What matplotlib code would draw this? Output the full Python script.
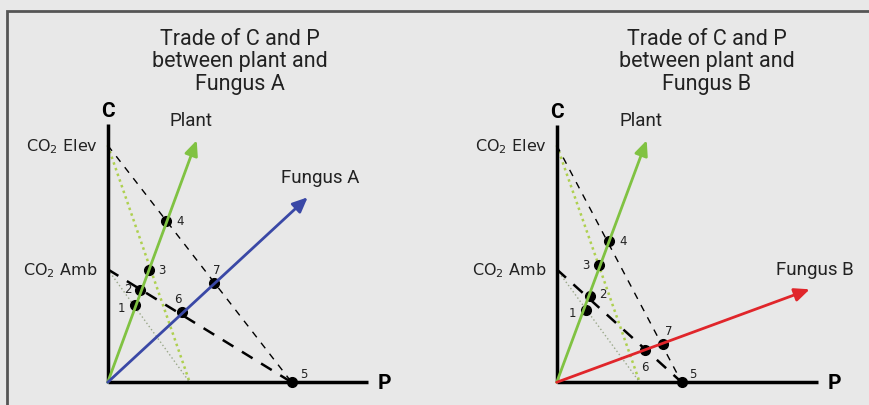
import matplotlib
matplotlib.use("Agg")
import matplotlib.pyplot as plt
from matplotlib.patches import Rectangle

# values for the two panels (arbitrary C / P units, origin at 0,0)
panels = ["A", "B"]
co2_elev = [23.7, 23.7]
co2_amb = [11.3, 11.3]
c_axis_top = [25.8, 25.7]
p_axis_end = [26.0, 26.1]
plant_tip = [(8.9, 24.2), (9.0, 24.2)]
fungus_tip = [(20.0, 18.5), (25.3, 9.3)]
dashed_p_cut = [18.4, 12.5]     # where the dashed budget lines meet P (point 5)
dotted_p_cut = [8.2, 8.3]       # where the dotted lines meet P
point_ids = ["1", "2", "3", "4", "5", "6", "7"]
points_p = [[2.7, 3.2, 4.1, 5.8, 18.4, 7.4, 10.6],
            [2.9, 3.3, 4.2, 5.2, 12.5, 8.8, 10.6]]
points_c = [[7.7, 9.2, 11.2, 16.1, 0.0, 7.0, 9.9],
            [7.2, 8.6, 11.7, 14.1, 0.0, 3.2, 3.8]]
fungus_colors = ["#3a48a6", "#e0262b"]
fungus_label_pos = [(21.2, 20.5), (25.8, 11.3)]

# label offsets (in units) for the point numbers
label_off = [
    [(-1.3, -0.2), (-1.2, 0.2), (1.3, 0.1), (1.4, 0.1), (1.2, 0.9), (-0.4, 1.4), (0.3, 1.4)],
    [(-1.3, -0.2), (1.3, 0.3), (-1.3, 0.1), (1.4, 0.1), (1.1, 0.9), (0.0, -1.6), (0.6, 1.4)],
]

bg = "#e8e8e8"
fig = plt.figure(figsize=(8.7, 4.06), dpi=100, facecolor=bg)

# outer frame
fig.patches.append(Rectangle((7 / 870, -0.05), 1.1, (406 - 12) / 406 + 0.05,
                             transform=fig.transFigure, fill=False,
                             edgecolor="#555555", lw=2))

origins = [(107.7, 383.3), (556.7, 383.3)]
cond = ["Roboto", "DejaVu Sans"]

for i, name in enumerate(panels):
    x0 = i * 435
    ox, oy = origins[i]
    ax = fig.add_axes([x0 / 870, 0, 435 / 870, 1])
    ax.set_xlim((x0 - ox) / 10, (x0 + 435 - ox) / 10)
    ax.set_ylim(-(406 - oy) / 10, oy / 10)
    ax.axis("off")

    e, a = co2_elev[i], co2_amb[i]
    # dotted lines
    ax.plot([0, dotted_p_cut[i]], [e, 0], color="#aed04f", lw=1.8, ls=(0, (1, 1.4)))
    ax.plot([0, dotted_p_cut[i]], [a, 0], color="#9aa88a", lw=1.0, ls=(0, (1, 1.8)))
    # dashed budget lines
    ax.plot([0, dashed_p_cut[i]], [e, 0], color="black", lw=1.0, ls=(0, (5, 5)))
    ax.plot([0, dashed_p_cut[i]], [a, 0], color="black", lw=1.8, ls=(0, (5, 4)))

    # plant and fungus arrows
    ax.annotate("", xy=plant_tip[i], xytext=(0, 0),
                arrowprops=dict(arrowstyle="-|>,head_length=0.9,head_width=0.4",
                                color="#80c242", lw=2, shrinkA=0, shrinkB=0))
    ax.annotate("", xy=fungus_tip[i], xytext=(0, 0),
                arrowprops=dict(arrowstyle="-|>,head_length=0.9,head_width=0.4",
                                color=fungus_colors[i], lw=2, shrinkA=0, shrinkB=0))

    # axes
    ax.plot([0, 0], [0, c_axis_top[i]], color="black", lw=2.5, solid_capstyle="butt")
    ax.plot([0, p_axis_end[i]], [0, 0], color="black", lw=2.5, solid_capstyle="butt")

    # points
    ax.plot(points_p[i], points_c[i], "o", color="black", ms=7)
    for k, pid in enumerate(point_ids):
        dx, dy = label_off[i][k]
        ax.text(points_p[i][k] + dx, points_c[i][k] + dy, pid, fontsize=8.5,
                ha="center", va="center", color="#222222")

    # text labels
    ax.text(-1.0, e, "CO$_2$ Elev", ha="right", va="center", fontsize=11.5, color="#222222")
    ax.text(-1.0, a, "CO$_2$ Amb", ha="right", va="center", fontsize=11.5, color="#222222")
    ax.text(0, c_axis_top[i] + 1.4, "C", ha="center", va="center", fontsize=15,
            fontweight="bold", family=cond)
    ax.text(p_axis_end[i] + 1.7, 0, "P", ha="center", va="center", fontsize=15,
            fontweight="bold", family=cond)
    ax.text(plant_tip[i][0] - 0.6, 26.2, "Plant", ha="center", va="center",
            fontsize=13.5, family=cond, color="#222222")
    ax.text(*fungus_label_pos[i], "Fungus " + name, ha="center", va="center",
            fontsize=13.5, family=cond, color="#222222")

fig.text(240 / 870, 1 - 62 / 406, "Trade of C and P\nbetween plant and\nFungus A",
         ha="center", va="center", fontsize=15.5, family=cond, linespacing=1.08,
         color="#222222")
fig.text(707 / 870, 1 - 62 / 406, "Trade of C and P\nbetween plant and\nFungus B",
         ha="center", va="center", fontsize=15.5, family=cond, linespacing=1.08,
         color="#222222")

fig.savefig("out.png", dpi=100, facecolor=bg)
